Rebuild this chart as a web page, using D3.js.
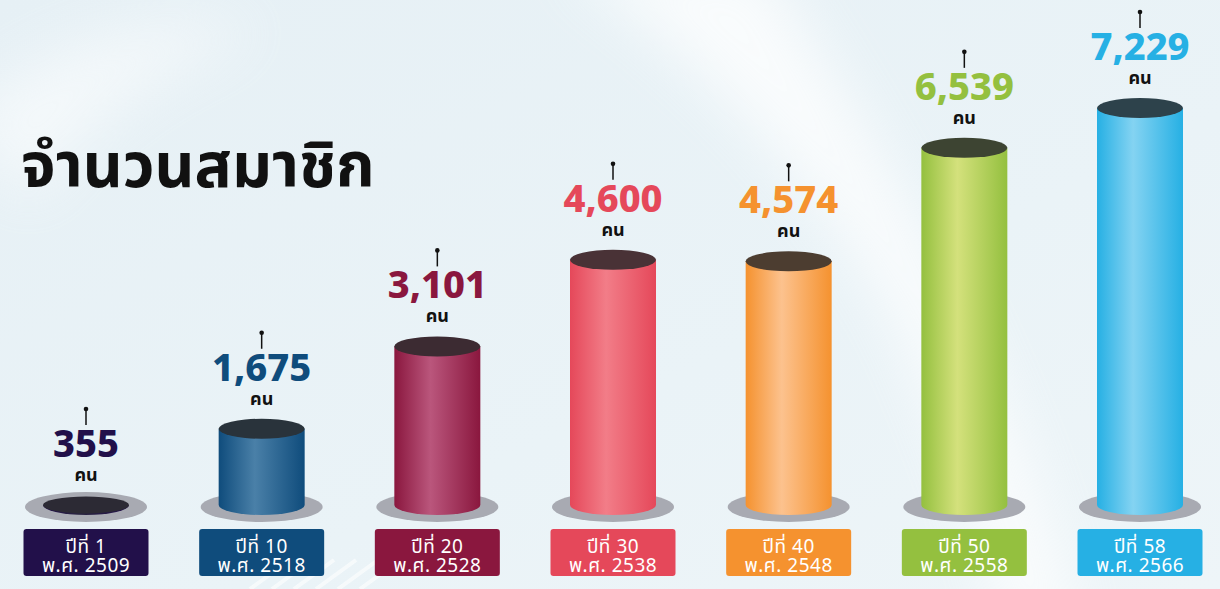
<!DOCTYPE html>
<html>
<head>
<meta charset="utf-8">
<title>จำนวนสมาชิก</title>
<script src="https://d3js.org/d3.v7.min.js"></script>
<style>
  body { margin: 0; background: #e8f2f6; }
  svg { display: block; }
  .thai { font-family: "Noto Sans Thai", "Noto Sans", "Open Sans", sans-serif; }
</style>
</head>
<body>
<div id="chart"></div>
<script>
// data
var years = ["ปีที่ 1", "ปีที่ 10", "ปีที่ 20", "ปีที่ 30", "ปีที่ 40", "ปีที่ 50", "ปีที่ 58"];
var beYears = ["พ.ศ. 2509", "พ.ศ. 2518", "พ.ศ. 2528", "พ.ศ. 2538", "พ.ศ. 2548", "พ.ศ. 2558", "พ.ศ. 2566"];
var members = [355, 1675, 3101, 4600, 4574, 6539, 7229];
var colors = ["#22104a", "#0f4c7c", "#8a173e", "#e5485a", "#f5922f", "#94c03f", "#26b0e4"];
var lights = ["#2a2540", "#4a80a8", "#ba567c", "#f27d88", "#fcc28e", "#d4e17c", "#84d3f2"];

var width = 1220, height = 589;
var baseY = 505;   // centre of cylinder bottom
var rx = 43, ry = 10;

var svg = d3.select("#chart").append("svg")
  .attr("width", width)
  .attr("height", height);

var defs = svg.append("defs");

// background
var bg = defs.append("linearGradient").attr("id", "bg")
  .attr("x1", 0).attr("y1", 0).attr("x2", 1).attr("y2", 1);
bg.append("stop").attr("offset", "0%").attr("stop-color", "#e6f0f5");
bg.append("stop").attr("offset", "60%").attr("stop-color", "#eaf3f7");
bg.append("stop").attr("offset", "100%").attr("stop-color", "#eef5f8");
svg.append("rect").attr("width", width).attr("height", height).attr("fill", "url(#bg)");

defs.append("filter").attr("id", "soft")
  .attr("x", "-50%").attr("y", "-50%").attr("width", "200%").attr("height", "200%")
  .append("feGaussianBlur").attr("stdDeviation", 28);

svg.append("path")
  .attr("d", "M560,-40 C700,60 820,180 900,330 C940,420 980,520 1010,640 L1080,640 C1040,470 960,260 760,-40 Z")
  .attr("fill", "#ffffff").attr("opacity", 0.75).attr("filter", "url(#soft)");
svg.append("path")
  .attr("d", "M-40,120 C40,40 160,10 260,30 C180,60 90,110 30,200 Z")
  .attr("fill", "#ffffff").attr("opacity", 0.55).attr("filter", "url(#soft)");

// faint stripes lower left
svg.append("g").selectAll("line")
  .data(d3.range(6))
  .join("line")
    .attr("x1", function(d) { return 250 + d * 22; })
    .attr("y1", 589)
    .attr("x2", function(d) { return 290 + d * 22; })
    .attr("y2", 560)
    .attr("stroke", "#ffffff").attr("stroke-width", 4).attr("opacity", 0.6);

// title
svg.append("text").attr("class", "thai")
  .attr("x", 21).attr("y", 187)
  .attr("font-size", 62).attr("font-weight", 700)
  .attr("fill", "#111111")
  .text("จำนวนสมาชิก");

var x = d3.scalePoint().domain(years).range([86, 1140]);
var y = d3.scaleLinear().domain([0, d3.max(members)]).range([525.5, 108]);

// gradients for the cylinder bodies
years.forEach(function(k, i) {
  var g = defs.append("linearGradient").attr("id", "cyl" + i)
    .attr("x1", 0).attr("y1", 0).attr("x2", 1).attr("y2", 0);
  g.append("stop").attr("offset", "0%").attr("stop-color", colors[i]);
  g.append("stop").attr("offset", "42%").attr("stop-color", lights[i]);
  g.append("stop").attr("offset", "100%").attr("stop-color", colors[i]);
});

var data = years.map(function(k, i) {
  return { key: k, be: beYears[i], value: members[i], i: i };
});

var cols = svg.append("g").selectAll("g")
  .data(data)
  .join("g")
    .attr("transform", function(d) { return "translate(" + x(d.key) + ",0)"; });

// grey shadow base
cols.append("ellipse")
  .attr("cx", 0).attr("cy", 507)
  .attr("rx", 61).attr("ry", 15)
  .attr("fill", "#a8aab2");

// body
cols.append("path")
  .attr("fill", function(d) { return "url(#cyl" + d.i + ")"; })
  .attr("d", function(d) {
    var top = Math.min(y(d.value), baseY);
    return "M" + (-rx) + "," + top +
      " L" + (-rx) + "," + baseY +
      " A" + rx + "," + ry + " 0 0 0 " + rx + "," + baseY +
      " L" + rx + "," + top + " Z";
  });

// top face
cols.append("ellipse")
  .attr("cx", 0)
  .attr("cy", function(d) { return y(d.value); })
  .attr("rx", rx).attr("ry", function(d) { return d.i === 0 ? 8.5 : ry; })
  .attr("fill", function(d) { return d3.interpolateRgb(colors[d.i], "#2e2e30")(0.85); });

// pin
cols.append("line")
  .attr("x1", 0).attr("x2", 0)
  .attr("y1", function(d) { return y(d.value) - 96; })
  .attr("y2", function(d) { return y(d.value) - 80; })
  .attr("stroke", "#111").attr("stroke-width", 1.5);
cols.append("circle")
  .attr("cx", 0)
  .attr("cy", function(d) { return y(d.value) - 96; })
  .attr("r", 2.3).attr("fill", "#111");

// value + unit, one text block
var vt = cols.append("text").attr("class", "thai")
  .attr("text-anchor", "middle")
  .attr("font-weight", 800);
vt.append("tspan")
  .attr("x", 0)
  .attr("y", function(d) { return y(d.value) - 48; })
  .attr("font-size", 38)
  .attr("fill", function(d) { return colors[d.i]; })
  .text(function(d) { return d3.format(",")(d.value); });
vt.append("tspan")
  .attr("x", 0)
  .attr("y", function(d) { return y(d.value) - 24; })
  .attr("font-size", 18).attr("font-weight", 700)
  .attr("fill", "#111")
  .text("คน");

// label boxes
cols.append("rect")
  .attr("x", -62.5).attr("y", 529)
  .attr("width", 125).attr("height", 47)
  .attr("rx", 3)
  .attr("fill", function(d) { return colors[d.i]; });

var lt = cols.append("text").attr("class", "thai")
  .attr("text-anchor", "middle")
  .attr("font-size", 19).attr("font-weight", 400)
  .attr("letter-spacing", 0.5)
  .attr("fill", "#fff");
lt.append("tspan").attr("x", 0).attr("y", 553)
  .text(function(d) { return d.key; });
lt.append("tspan").attr("x", 0).attr("y", 572)
  .text(function(d) { return d.be; });
</script>
</body>
</html>
